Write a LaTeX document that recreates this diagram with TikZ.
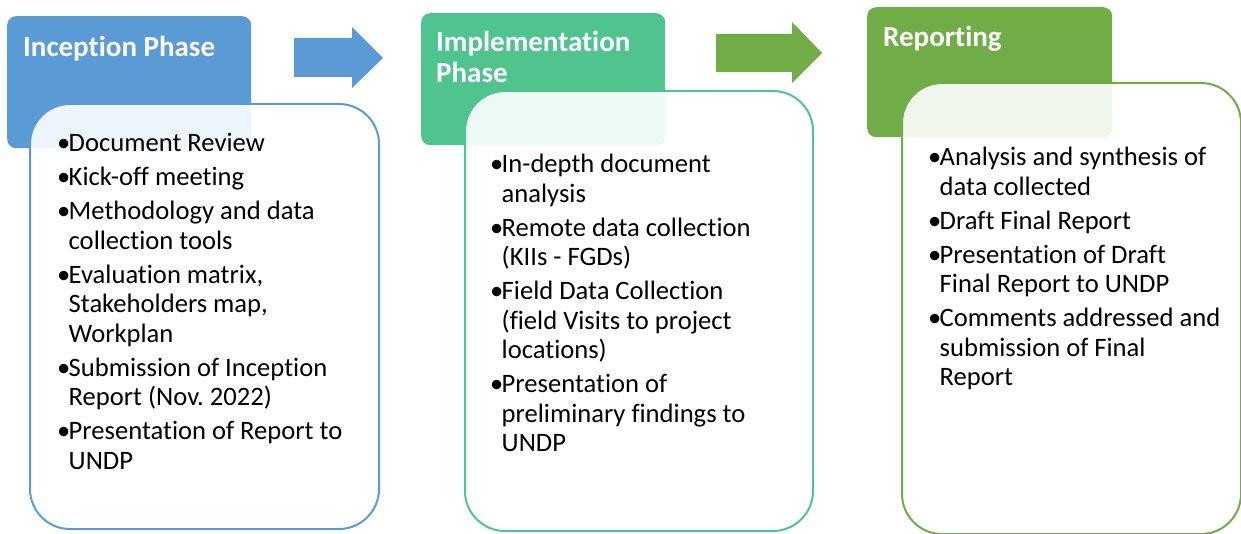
\documentclass[tikz,border=0pt]{standalone}
\usepackage{fontspec}
\setmainfont{Carlito}[Ligatures=NoCommon]
\usetikzlibrary{calc}
\definecolor{phaseblue}{RGB}{91,155,213}
\definecolor{phasemint}{RGB}{80,196,143}
\definecolor{phasegreen}{RGB}{112,173,71}
% 条目符号与续行缩进
\newcommand{\itm}{\makebox[11.5pt][l]{\textbullet}}
\newcommand{\cnt}{\hspace*{11.5pt}}
\frenchspacing

\begin{document}
\begin{tikzpicture}[
  x=1pt, y=-1pt,
  phasehead/.style={draw=none, fill=#1, rounded corners=9pt,
    anchor=north west, inner sep=0pt},
  phaselist/.style={draw=#1, line width=2pt, fill=white, fill opacity=0.9,
    rounded corners=40pt, anchor=north west, inner sep=0pt},
  headtext/.style={anchor=north west, inner sep=0pt, text=white,
    font=\fontsize{29}{31}\selectfont\bfseries, align=left},
  listtext/.style={anchor=north west, inner sep=0pt,
    font=\fontsize{26.6}{29.5}\selectfont, align=left},
  ]
  % 固定画布大小
  \useasboundingbox (0,0) rectangle (1241,534);

  % 阶段标题块与列表框
  % \nm---节点名
  % \clr---颜色
  % \hx,\hy,\hw,\hh---标题块位置与大小
  % \bx,\by,\bw,\bh---列表框位置与大小
  \foreach \nm/\clr/\hx/\hy/\hw/\hh/\bx/\by/\bw/\bh in
  {
    inception/phaseblue/7/16/244/132/29/103/349/425,
    implement/phasemint/421/13/244/132/464/90/348/440,
    reporting/phasegreen/867/7/245/130/901/82/339/451}
  {
    \node[phasehead=\clr, minimum width=\hw pt, minimum height=\hh pt]
      (\nm) at (\hx,\hy) {};
    \node[phaselist=\clr, minimum width=\bw pt, minimum height=\bh pt]
      (\nm list) at (\bx,\by) {};
  }

  % 阶段之间的箭头
  \fill[phaseblue] (294,38) -- (352,38) -- (352,27) -- (383,58)
    -- (352,88) -- (352,77) -- (294,77) -- cycle;
  \fill[phasegreen] (716,34) -- (792,34) -- (792,22) -- (822,53)
    -- (792,83) -- (792,72) -- (716,72) -- cycle;

  % 标题文字
  \node[headtext] (inceptiontitle) at ($(inception.north west)+(16,20)$)
    {Inception Phase};
  \node[headtext] (implementtitle) at ($(implement.north west)+(15,18)$)
    {Implementation\\Phase};
  \node[headtext] (reportingtitle) at ($(reporting.north west)+(16,19)$)
    {Reporting};

  % 列表文字
  \node[listtext] (inceptionitems) at ($(inceptionlist.north west)+(28,30)$)
    {\itm Document Review\\[4.5pt]
     \itm Kick-off meeting\\[4.5pt]
     \itm Methodology and data\\
     \cnt collection tools\\[4.5pt]
     \itm Evaluation matrix,\\
     \cnt Stakeholders map,\\
     \cnt Workplan\\[4.5pt]
     \itm Submission of Inception\\
     \cnt Report (Nov. 2022)\\[4.5pt]
     \itm Presentation of Report to\\
     \cnt UNDP};
  \node[listtext] (implementitems) at ($(implementlist.north west)+(26,64)$)
    {\itm In-depth document\\
     \cnt analysis\\[4.5pt]
     \itm Remote data collection\\
     \cnt (KIIs - FGDs)\\[4.5pt]
     \itm Field Data Collection\\
     \cnt (field Visits to project\\
     \cnt locations)\\[4.5pt]
     \itm Presentation of\\
     \cnt preliminary findings to\\
     \cnt UNDP};
  \node[listtext] (reportingitems) at ($(reportinglist.north west)+(27,65)$)
    {\itm Analysis and synthesis of\\
     \cnt data collected\\[4.5pt]
     \itm Draft Final Report\\[4.5pt]
     \itm Presentation of Draft\\
     \cnt Final Report to UNDP\\[4.5pt]
     \itm Comments addressed and\\
     \cnt submission of Final\\
     \cnt Report};
\end{tikzpicture}
\end{document}
